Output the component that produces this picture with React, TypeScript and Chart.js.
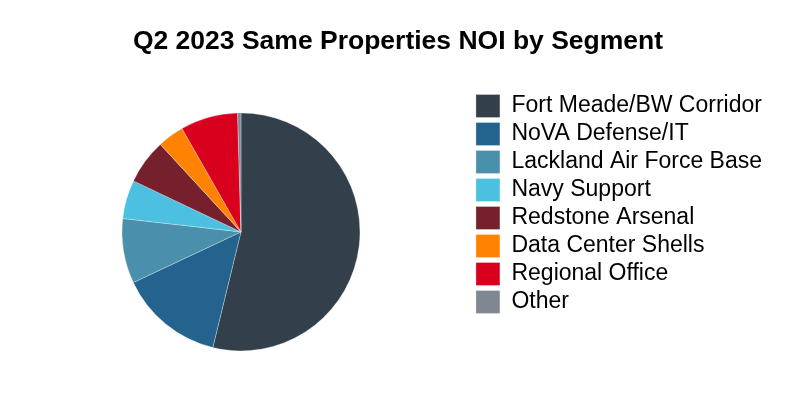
import { useEffect, useRef } from 'react'
import { Chart, registerables } from 'chart.js'

Chart.register(...registerables)

const segments = [
  'Fort Meade/BW Corridor',
  'NoVA Defense/IT',
  'Lackland Air Force Base',
  'Navy Support',
  'Redstone Arsenal',
  'Data Center Shells',
  'Regional Office',
  'Other',
]
const noiShare = [53.8, 14.2, 8.8, 5.25, 6.1, 3.6, 7.8, 0.45]
const segmentColors = ['#333f4a', '#23638e', '#4a8fab', '#4bc0e0', '#76202e', '#ff8300', '#d9001e', '#7f8890']
const chartTitle = 'Q2 2023 Same Properties NOI by Segment'

// the title should be centred on the whole canvas, not between pie and legend
const fullWidthTitle = {
  id: 'fullWidthTitle',
  afterLayout(chart: any) {
    const t = chart.titleBlock
    if (!t) return
    t.left = -2
    t.right = chart.width - 2
    t.width = chart.width
  },
}

export default function App() {
  const canvasRef = useRef<HTMLCanvasElement>(null)

  useEffect(() => {
    if (!canvasRef.current) return
    const chart = new Chart(canvasRef.current, {
      type: 'pie',
      data: {
        labels: segments,
        datasets: [{
          data: noiShare,
          backgroundColor: segmentColors,
          borderColor: 'rgba(255,255,255,0.6)',
          borderWidth: 0.5,
          radius: 119,
        }],
      },
      options: {
        animation: false,
        responsive: false,
        layout: { padding: { top: 8, left: 11, right: 28, bottom: 0 } },
        plugins: {
          title: {
            display: true,
            text: chartTitle,
            color: '#000',
            font: { family: '"Liberation Sans", Arial, sans-serif', size: 26.5, weight: 'bold' },
            padding: { top: 18, bottom: 6 },
          },
          legend: {
            position: 'right',
            labels: {
              color: '#000',
              boxWidth: 24,
              boxHeight: 23,
              padding: 5,
              font: { family: '"Liberation Sans", Arial, sans-serif', size: 23 },
            },
          },
          tooltip: { enabled: false },
        },
      },
      plugins: [fullWidthTitle],
    })
    return () => chart.destroy()
  }, [])

  return (
    <div style={{ position: 'fixed', left: 0, top: 0, width: 800, height: 400, background: '#fff' }}>
      <canvas ref={canvasRef} width={800} height={400} />
    </div>
  )
}
